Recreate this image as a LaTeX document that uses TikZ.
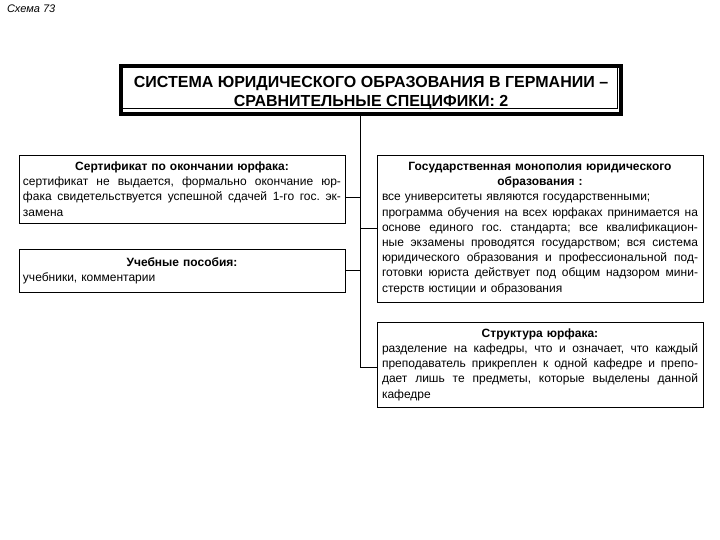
\documentclass[tikz,border=0pt]{standalone}
\usepackage{fontspec}
\setmainfont{Liberation Sans}
\newcommand\myjl[1]{\makebox[\hsize][s]{\frenchspacing\spaceskip=0.28em plus 1fil\relax #1}}
\newcommand\myll[1]{\makebox[\hsize][l]{#1}}
\newcommand\mycl[1]{\makebox[\hsize][c]{\bfseries #1}}
\begin{document}
\begin{tikzpicture}[x=1pt,y=-1pt,
  every node/.style={inner sep=0pt, outer sep=0pt},
  infobox/.style={draw=black, line width=0.9pt, anchor=north west, align=left,
    font=\fontsize{12}{15.2}\selectfont, minimum width=326pt},
  conn/.style={draw=black, line width=0.9pt}]
\useasboundingbox (0,0) rectangle (720,540);

\node[anchor=west, font=\fontsize{11}{13}\selectfont\itshape] (cap) at (7,9) {Схема 73};

\node[draw=black, line width=4pt, minimum width=500pt, minimum height=48pt, anchor=north west] (frame) at (121,66) {};
\node[draw=black, line width=0.8pt, minimum width=496pt, minimum height=42pt, anchor=north west] (title) at (121,66) {};
\node[align=center, font=\fontsize{16}{19}\selectfont\bfseries] (ttext) at (371,93.5)
  {СИСТЕМА ЮРИДИЧЕСКОГО ОБРАЗОВАНИЯ В ГЕРМАНИИ –\\СРАВНИТЕЛЬНЫЕ СПЕЦИФИКИ: 2};

\node[infobox, text width=318pt, inner xsep=4pt, minimum height=68pt] (l1) at (19,155)
  {\mycl{Сертификат по окончании юрфака:}\\
   \myjl{сертификат не выдается, формально окончание юр-}\\
   \myjl{фака свидетельствуется успешной сдачей 1-го гос. эк-}\\
   \myll{замена}};

\node[infobox, text width=318pt, inner xsep=4pt, minimum height=43pt] (l2) at (19,249)
  {\mycl{Учебные пособия:}\\
   \myll{учебники, комментарии}};

\node[infobox, text width=316pt, inner xsep=5pt, minimum height=147pt] (r1) at (377,155)
  {\mycl{Государственная монополия юридического}\\
   \mycl{образования :}\\
   \myll{все университеты являются государственными;}\\
   \myjl{программа обучения на всех юрфаках принимается на}\\
   \myjl{основе единого гос. стандарта; все квалификацион-}\\
   \myjl{ные экзамены проводятся государством; вся система}\\
   \myjl{юридического образования и профессиональной под-}\\
   \myjl{готовки юриста действует под общим надзором мини-}\\
   \myll{стерств юстиции и образования}};

\node[infobox, text width=316pt, inner xsep=5pt, minimum height=85pt] (r2) at (377,322)
  {\mycl{Структура юрфака:}\\
   \myjl{разделение на кафедры, что и означает, что каждый}\\
   \myjl{преподаватель прикреплен к одной кафедре и препо-}\\
   \myjl{дает лишь те предметы, которые выделены данной}\\
   \myll{кафедре}};

\coordinate (te) at (360,367);
\coordinate (c1) at ([yshift=-8pt]l1.east);
\draw[conn] (frame.south -| te) -- (te) -- (te -| r2.west);
\draw[conn] (c1) -- (c1 -| te);
\draw[conn] (l2.east) -- (l2.east -| te);
\draw[conn] (r1.west) -- (r1.west -| te);
\end{tikzpicture}
\end{document}
